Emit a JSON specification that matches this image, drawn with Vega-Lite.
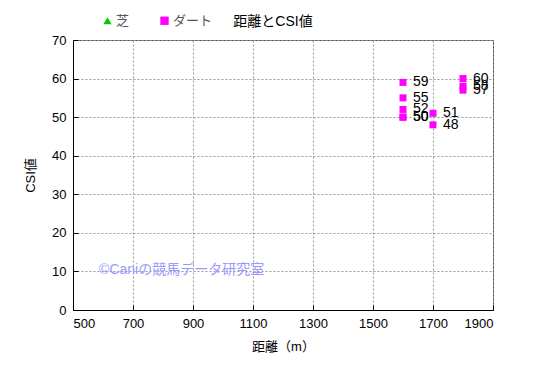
{
  "$schema": "https://vega.github.io/schema/vega-lite/v6.json",
  "width": 420,
  "height": 270,
  "autosize": "none",
  "padding": {"left": 73, "top": 40, "right": 52, "bottom": 67},
  "background": "white",
  "title": {"text": "距離とCSI値", "fontSize": 14, "fontWeight": "normal", "font": "Liberation Sans, Noto Sans CJK JP", "color": "#000", "anchor": "middle", "dx": -10, "offset": -15},
  "config": {
    "view": {"stroke": "#555", "strokeWidth": 1},
    "font": "Liberation Sans, Noto Sans CJK JP"
  },
  "datasets": {
    "pts": [
      {"dist": 1600, "csi": 59, "type": "ダート"},
      {"dist": 1600, "csi": 55, "type": "ダート"},
      {"dist": 1600, "csi": 52, "type": "ダート"},
      {"dist": 1600, "csi": 50, "type": "ダート"},
      {"dist": 1600, "csi": 50, "type": "ダート"},
      {"dist": 1700, "csi": 51, "type": "ダート"},
      {"dist": 1700, "csi": 48, "type": "ダート"},
      {"dist": 1800, "csi": 60, "type": "ダート"},
      {"dist": 1800, "csi": 58, "type": "ダート"},
      {"dist": 1800, "csi": 57, "type": "ダート"}
    ],
    "mark": [{"dist": 587, "csi": 10.3, "label": "©Caniの競馬データ研究室"}]
  },
  "encoding": {
    "x": {"field": "dist", "type": "quantitative", "scale": {"domain": [500, 1900], "nice": false, "zero": false},
      "axis": {"title": "距離（m）", "values": [500, 700, 900, 1100, 1300, 1500, 1700, 1900], "format": "d", "tickSize": -5, "tickColor": "#000", "domainColor": "#000", "gridColor": "#999", "gridDash": [2, 2], "labelFontSize": 13, "labelColor": "#000", "labelPadding": 12, "titleFontSize": 13, "titleFontWeight": "normal", "titleColor": "#000", "titlePadding": 10}},
    "y": {"field": "csi", "type": "quantitative", "scale": {"domain": [0, 70], "nice": false},
      "axis": {"title": "CSI値", "values": [0, 10, 20, 30, 40, 50, 60, 70], "format": "d", "tickSize": -5, "tickColor": "#000", "domainColor": "#000", "gridColor": "#999", "gridDash": [2, 2], "labelFontSize": 13, "labelColor": "#000", "labelPadding": 12, "titleFontSize": 13, "titleFontWeight": "normal", "titleColor": "#000", "titlePadding": 14}}
  },
  "layer": [
    {
      "data": {"name": "pts"},
      "mark": {"type": "point", "filled": true, "size": 49, "opacity": 1},
      "encoding": {
        "color": {"field": "type", "type": "nominal", "scale": {"domain": ["芝", "ダート"], "range": ["#00cc00", "#ff00ff"]},
          "legend": {"title": null, "orient": "none", "legendX": 28, "legendY": -26, "direction": "horizontal", "labelFontSize": 13, "labelColor": "#555", "symbolSize": 70, "columnPadding": 28, "symbolStrokeWidth": 0, "labelOffset": 2}},
        "shape": {"field": "type", "type": "nominal", "scale": {"domain": ["芝", "ダート"], "range": ["triangle-up", "square"]}, "legend": null}
      }
    },
    {
      "data": {"name": "pts"},
      "mark": {"type": "text", "align": "left", "baseline": "middle", "dx": 10, "fontSize": 14, "color": "#000"},
      "encoding": {
        "text": {"field": "csi", "type": "quantitative"}
      }
    },
    {
      "data": {"name": "mark"},
      "mark": {"type": "text", "align": "left", "baseline": "middle", "fontSize": 14, "color": "#9999ff"},
      "encoding": {
        "text": {"field": "label"}
      }
    }
  ]
}
